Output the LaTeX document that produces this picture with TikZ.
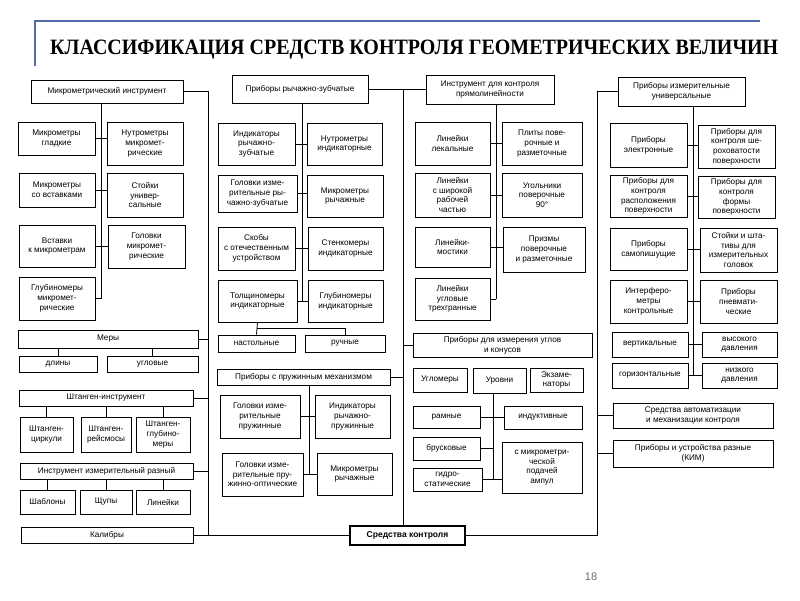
\documentclass[tikz,border=0pt]{standalone}
\usepackage{fontspec}
\usepackage{graphicx}
\setmainfont{Liberation Sans}
\newfontfamily\titlefont{Liberation Serif}
\usetikzlibrary{calc}
\definecolor{slideblue}{RGB}{79,108,168}
\definecolor{pagegray}{RGB}{110,110,110}

\begin{document}
\begin{tikzpicture}[x=1pt,y=-1pt,
  box/.style={draw,line width=1pt,align=center,inner sep=1pt,
    font=\fontsize{8.2}{9.7}\selectfont},
  sz/.style 2 args={minimum width=#1pt,minimum height=#2pt},
  rootbox/.style={draw,line width=2pt,inner sep=1pt,
    font=\bfseries\fontsize{8.5}{10}\selectfont},
  lnk/.style={line width=0.8pt}]
  \useasboundingbox (0,0) rectangle (800,600);

  % title
  \draw[slideblue,line width=1.6pt] (35,66) -- (35,21) -- (760,21);
  \node[anchor=base west,inner sep=0pt] (title) at (50,54)
    {\resizebox{728pt}{14.5pt}{\titlefont\bfseries КЛАССИФИКАЦИЯ СРЕДСТВ КОНТРОЛЯ ГЕОМЕТРИЧЕСКИХ ВЕЛИЧИН}};

  % column 1
  \node[box,sz={152}{23}] (mi) at (107,91.5) {Микрометрический инструмент};
  \node[box,sz={77}{33}] (mg) at (56.5,138.5) {Микрометры\\гладкие};
  \node[box,sz={76}{43}] (nm) at (145,143.5) {Нутрометры\\микромет-\\рические};
  \node[box,sz={76}{34}] (mv) at (57,190) {Микрометры\\со вставками};
  \node[box,sz={76}{44}] (su) at (145,195) {Стойки\\универ-\\сальные};
  \node[box,sz={76}{42}] (vm) at (57,246) {Вставки\\к микрометрам};
  \node[box,sz={77}{43}] (gm) at (146.5,246.5) {Головки\\микромет-\\рические};
  \node[box,sz={76}{43}] (glm) at (57,298.5) {Глубиномеры\\микромет-\\рические};
  \node[box,sz={180}{18}] (mery) at (108,339) {Меры};
  \node[box,sz={78}{16}] (dl) at (58,364) {длины};
  \node[box,sz={91}{16}] (ug) at (152.5,364) {угловые};
  \node[box,sz={174}{16}] (sht) at (106,398) {Штанген-инструмент};
  \node[box,sz={53}{35}] (sc) at (46.5,434.5) {Штанген-\\циркули};
  \node[box,sz={50}{35}] (sr) at (106,434.5) {Штанген-\\рейсмосы};
  \node[box,sz={54}{35}] (sg) at (163,434.5) {Штанген-\\глубино-\\меры};
  \node[box,sz={173}{16}] (irz) at (106.5,471) {Инструмент измерительный разный};
  \node[box,sz={55}{24}] (shb) at (47.5,502) {Шаблоны};
  \node[box,sz={52}{24}] (shp) at (106,502) {Щупы};
  \node[box,sz={54}{24}] (lin) at (163,502) {Линейки};
  \node[box,sz={172}{16}] (kal) at (107,535) {Калибры};

  % column 2
  \node[box,sz={136}{28}] (prz) at (300,89) {Приборы рычажно-зубчатые};
  \node[box,sz={77}{42}] (irz2) at (256.5,144) {Индикаторы\\рычажно-\\зубчатые};
  \node[box,sz={75}{42}] (nui) at (344.5,144) {Нутрометры\\индикаторные};
  \node[box,sz={79}{37}] (gir) at (257.5,193.5) {Головки изме-\\рительные ры-\\чажно-зубчатые};
  \node[box,sz={76}{42}] (mr1) at (345,196) {Микрометры\\рычажные};
  \node[box,sz={77}{43}] (sko) at (256.5,248.5) {Скобы\\с отечественным\\устройством};
  \node[box,sz={75}{43}] (sti) at (345.5,248.5) {Стенкомеры\\индикаторные};
  \node[box,sz={79}{42}] (tol) at (257.5,301) {Толщиномеры\\индикаторные};
  \node[box,sz={75}{42}] (gli) at (345.5,301) {Глубиномеры\\индикаторные};
  \node[box,sz={77}{17}] (nas) at (256.5,343.5) {настольные};
  \node[box,sz={80}{17}] (ruc) at (345,343.5) {ручные};
  \node[box,sz={173}{16}] (ppm) at (303.5,377) {Приборы с пружинным механизмом};
  \node[box,sz={80}{43}] (gip) at (260,416.5) {Головки изме-\\рительные\\пружинные};
  \node[box,sz={75}{43}] (irp) at (352.5,416.5) {Индикаторы\\рычажно-\\пружинные};
  \node[box,sz={81}{43}] (gipo) at (262.5,474.5) {Головки изме-\\рительные пру-\\жинно-оптические};
  \node[box,sz={75}{42}] (mr2) at (354.5,474) {Микрометры\\рычажные};

  % column 3
  \node[box,sz={128}{29}] (ipr) at (490,89.5) {Инструмент для контроля\\прямолинейности};
  \node[box,sz={75}{43}] (lle) at (452.5,143.5) {Линейки\\лекальные};
  \node[box,sz={80}{43}] (plp) at (542,143.5) {Плиты пове-\\рочные и\\разметочные};
  \node[box,sz={75}{44}] (lsh) at (452.5,195) {Линейки\\с широкой\\рабочей\\частью};
  \node[box,sz={80}{44}] (ugp) at (542,195) {Угольники\\поверочные\\90°};
  \node[box,sz={75}{40}] (lmo) at (452.5,247) {Линейки-\\мостики};
  \node[box,sz={82}{45}] (pri) at (544,249.5) {Призмы\\поверочные\\и разметочные};
  \node[box,sz={75}{42}] (lut) at (452.5,299) {Линейки\\угловые\\трехгранные};
  \node[box,sz={179}{24}] (piu2) at (502.5,345) {Приборы для измерения углов\\и конусов};
  \node[box,sz={54}{24}] (ugl) at (440,380) {Угломеры};
  \node[box,sz={53}{25}] (urv) at (499.5,380.5) {Уровни};
  \node[box,sz={53}{24}] (ekz) at (556.5,380) {Экзаме-\\наторы};
  \node[box,sz={67}{22}] (ram) at (446.5,417) {рамные};
  \node[box,sz={78}{23}] (ind) at (543,417.5) {индуктивные};
  \node[box,sz={67}{23}] (bru) at (446.5,448.5) {брусковые};
  \node[box,sz={80}{51}] (smp) at (542,467.5) {с микрометри-\\ческой\\подачей\\ампул};
  \node[box,sz={69}{23}] (gid) at (447.5,479.5) {гидро-\\статические};

  % column 4
  \node[box,sz={127}{29}] (piu) at (681.5,91.5) {Приборы измерительные\\универсальные};
  \node[box,sz={77}{44}] (pel) at (648.5,145) {Приборы\\электронные};
  \node[box,sz={77}{43}] (psh) at (736.5,146.5) {Приборы для\\контроля ше-\\роховатости\\поверхности};
  \node[box,sz={77}{42}] (prs) at (648.5,196) {Приборы для\\контроля\\расположения\\поверхности};
  \node[box,sz={77}{42}] (pfo) at (736.5,197) {Приборы для\\контроля\\формы\\поверхности};
  \node[box,sz={77}{42}] (psa) at (648.5,249) {Приборы\\самопишущие};
  \node[box,sz={77}{44}] (sts) at (738.5,250) {Стойки и шта-\\тивы для\\измерительных\\головок};
  \node[box,sz={77}{43}] (int) at (648.5,301.5) {Интерферо-\\метры\\контрольные};
  \node[box,sz={77}{43}] (ppn) at (738.5,301.5) {Приборы\\пневмати-\\ческие};
  \node[box,sz={76}{25}] (ver) at (650,344.5) {вертикальные};
  \node[box,sz={75}{25}] (vys) at (739.5,344.5) {высокого\\давления};
  \node[box,sz={76}{25}] (gor) at (650,375.5) {горизонтальные};
  \node[box,sz={75}{25}] (niz) at (739.5,375.5) {низкого\\давления};
  \node[box,sz={160}{25}] (sam) at (693,415.5) {Средства автоматизации\\и механизации контроля};
  \node[box,sz={160}{27}] (pur) at (693,453.5) {Приборы и устройства разные\\(КИМ)};

  \node[rootbox,sz={115}{19}] (sk) at (407.5,535.5) {Средства контроля};
  \node[text=pagegray,font=\fontsize{11}{11}\selectfont] (pg) at (591,577) {18};

  % stems and trunks
  \coordinate (s1) at (101,0);
  \coordinate (s2) at (302,0);
  \coordinate (s3) at (309,0);
  \coordinate (s4) at (496,0);
  \coordinate (s5) at (493,0);
  \coordinate (s6) at (693,0);
  \coordinate (t1) at (208,0);
  \coordinate (t2) at (403,0);
  \coordinate (t3) at (597,0);

  \draw[lnk] (mi.south -| s1) -- (glm.east -| s1);
  \draw[lnk] (mg.east) -- (mg.east -| nm.west);
  \draw[lnk] (mv.east) -- (mv.east -| su.west);
  \draw[lnk] (vm.east) -- (vm.east -| gm.west);
  \draw[lnk] (glm.east) -- (glm.east -| s1);
  \draw[lnk] (dl.north) -- (dl.north |- mery.south);
  \draw[lnk] (ug.north) -- (ug.north |- mery.south);
  \draw[lnk] (sc.north) -- (sc.north |- sht.south);
  \draw[lnk] (sr.north) -- (sr.north |- sht.south);
  \draw[lnk] (sg.north) -- (sg.north |- sht.south);
  \draw[lnk] (shb.north) -- (shb.north |- irz.south);
  \draw[lnk] (shp.north) -- (shp.north |- irz.south);
  \draw[lnk] (lin.north) -- (lin.north |- irz.south);
  \draw[lnk] (mi.east) -- (mi.east -| t1) -- (kal.east -| t1);
  \draw[lnk] (mery.east) -- (mery.east -| t1);
  \draw[lnk] (sht.east) -- (sht.east -| t1);
  \draw[lnk] (irz.east) -- (irz.east -| t1);
  \draw[lnk] (kal.east) -- (kal.east -| sk.west);

  \draw[lnk] (prz.south -| s2) -- (tol.east -| s2);
  \draw[lnk] (irz2.east) -- (irz2.east -| nui.west);
  \draw[lnk] (gir.east) -- (gir.east -| mr1.west);
  \draw[lnk] (sko.east) -- (sko.east -| sti.west);
  \draw[lnk] (tol.east) -- (tol.east -| gli.west);
  \coordinate (f2) at ($(tol.south)!0.45!(nas.north)$);
  \draw[lnk] (tol.south) -- (nas.north);
  \draw[lnk] (f2) -| (ruc.north);
  \draw[lnk] (ppm.south -| s3) -- (gipo.east -| s3);
  \draw[lnk] (gip.east) -- (gip.east -| irp.west);
  \draw[lnk] (gipo.east) -- (gipo.east -| mr2.west);
  \draw[lnk] (prz.east) -- (prz.east -| t2) -- (sk.north -| t2);
  \draw[lnk] (ipr.west) -- (ipr.west -| t2);
  \draw[lnk] (ppm.east) -- (ppm.east -| t2);
  \draw[lnk] (piu2.west) -- (piu2.west -| t2);

  \draw[lnk] (ipr.south -| s4) -- (lut.east -| s4);
  \draw[lnk] (lle.east) -- (lle.east -| plp.west);
  \draw[lnk] (lsh.east) -- (lsh.east -| ugp.west);
  \draw[lnk] (lmo.east) -- (lmo.east -| pri.west);
  \draw[lnk] (lut.east) -- (lut.east -| s4);
  \draw[lnk] (urv.south -| s5) -- (gid.east -| s5);
  \draw[lnk] (ram.east) -- (ram.east -| ind.west);
  \draw[lnk] (bru.east) -- (bru.east -| s5);
  \draw[lnk] (gid.east) -- (gid.east -| smp.west);

  \draw[lnk] (piu.south -| s6) -- (gor.east -| s6);
  \draw[lnk] (pel.east) -- (pel.east -| psh.west);
  \draw[lnk] (prs.east) -- (prs.east -| pfo.west);
  \draw[lnk] (psa.east) -- (psa.east -| sts.west);
  \draw[lnk] (int.east) -- (int.east -| ppn.west);
  \draw[lnk] (ver.east) -- (ver.east -| vys.west);
  \draw[lnk] (gor.east) -- (gor.east -| niz.west);
  \draw[lnk] (piu.west) -- (piu.west -| t3) -- (sk.east -| t3) -- (sk.east);
  \draw[lnk] (sam.west) -- (sam.west -| t3);
  \draw[lnk] (pur.west) -- (pur.west -| t3);
\end{tikzpicture}
\end{document}
